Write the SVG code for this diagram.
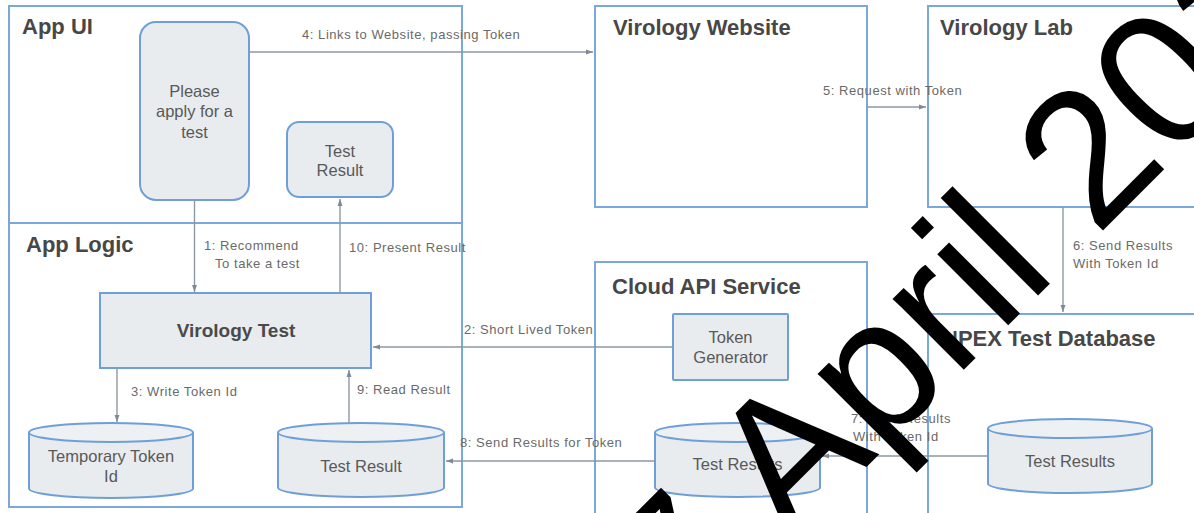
<svg xmlns="http://www.w3.org/2000/svg" width="1194" height="513" viewBox="0 0 1194 513">
<style>
.box{fill:#ffffff;stroke:#7aa8dc;stroke-width:2}
.node{fill:#e8ecef;stroke:#6f9fd8;stroke-width:2}
.top{fill:#eef1f3;stroke:#6f9fd8;stroke-width:2}
.title{font-family:"Liberation Sans",Arial,sans-serif;font-weight:bold;font-size:22px;fill:#474747}
.ntext{font-family:"Liberation Sans",Arial,sans-serif;font-size:16.5px;fill:#595959;text-anchor:middle}
.lbl{font-family:"Liberation Sans",Arial,sans-serif;font-size:13px;letter-spacing:0.55px;fill:#6a6a6a}
.conn{fill:none;stroke:#8d98a5;stroke-width:1.4}
.wm{font-family:"Liberation Sans",Arial,sans-serif;font-size:190px;fill:#000000}
</style>
<defs>
<marker id="ah" markerUnits="userSpaceOnUse" markerWidth="7" markerHeight="6" refX="7" refY="3" orient="auto">
<path d="M0,0.5 L7,3 L0,5.5 z" fill="#7f8a97"/>
</marker>
</defs>

<g id="app-ui">
<rect class="box" x="9" y="6" width="453" height="217"/>
<text class="title" x="22" y="34">App UI</text>
</g>
<g id="app-logic">
<rect class="box" x="9" y="223" width="453" height="284"/>
<text class="title" x="26" y="252">App Logic</text>
</g>
<g id="virology-website">
<rect class="box" x="595" y="6" width="272" height="201"/>
<text class="title" x="613" y="35">Virology Website</text>
</g>
<g id="virology-lab">
<rect class="box" x="928" y="6" width="300" height="201"/>
<text class="title" x="940" y="35">Virology Lab</text>
</g>
<g id="cloud-api-service">
<rect class="box" x="595" y="262" width="272" height="280"/>
<text class="title" x="612" y="294">Cloud API Service</text>
</g>
<g id="npex-test-database">
<rect class="box" x="928" y="314" width="300" height="230"/>
<text class="title" x="942" y="346">NPEX Test Database</text>
</g>

<g id="please-apply">
<rect class="node" x="140" y="22" width="109" height="178" rx="16"/>
<text class="ntext" x="194.5" y="97">Please</text>
<text class="ntext" x="194.5" y="117">apply for a</text>
<text class="ntext" x="194.5" y="138">test</text>
</g>
<g id="ui-test-result">
<rect class="node" x="287" y="122" width="106" height="75" rx="12"/>
<text class="ntext" x="340" y="157">Test</text>
<text class="ntext" x="340" y="176">Result</text>
</g>
<g id="virology-test">
<rect class="node" x="100" y="293" width="271" height="75"/>
<text class="ntext" x="236" y="337" style="font-weight:bold;font-size:19px;fill:#4a4a4a">Virology Test</text>
</g>
<g id="token-generator">
<rect class="node" x="673" y="314" width="115" height="66" rx="1"/>
<text class="ntext" x="730.5" y="343">Token</text>
<text class="ntext" x="730.5" y="363">Generator</text>
</g>
<g id="temporary-token-id">
<path class="node" d="M29,432.5 V488.5 A82,9.5 0 0 0 193,488.5 V432.5"/>
<ellipse class="top" cx="111" cy="432.5" rx="82" ry="9.5"/>
<text class="ntext" x="111" y="462">Temporary Token</text>
<text class="ntext" x="111" y="482">Id</text>
</g>
<g id="logic-test-result">
<path class="node" d="M278,432.5 V487.5 A83,9.5 0 0 0 444,487.5 V432.5"/>
<ellipse class="top" cx="361" cy="432.5" rx="83" ry="9.5"/>
<text class="ntext" x="361" y="472">Test Result</text>
</g>
<g id="cloud-test-results">
<path class="node" d="M655,432.5 V487.5 A82.5,9.5 0 0 0 820,487.5 V432.5"/>
<ellipse class="top" cx="737.5" cy="432.5" rx="82.5" ry="9.5"/>
<text class="ntext" x="737.5" y="470">Test Results</text>
</g>
<g id="npex-test-results">
<path class="node" d="M988,428.5 V483.5 A82,9.5 0 0 0 1152,483.5 V428.5"/>
<ellipse class="top" cx="1070" cy="428.5" rx="82" ry="9.5"/>
<text class="ntext" x="1070" y="467">Test Results</text>
</g>

<g id="connectors">
<line class="conn" x1="194.5" y1="200" x2="194.5" y2="292" marker-end="url(#ah)"/>
<text class="lbl" x="204" y="250">1: Recommend</text>
<text class="lbl" x="215" y="268">To take a test</text>

<line class="conn" x1="673" y1="347" x2="373" y2="347" marker-end="url(#ah)"/>
<text class="lbl" x="464" y="334">2: Short Lived Token</text>

<line class="conn" x1="117" y1="368" x2="117" y2="422" marker-end="url(#ah)"/>
<text class="lbl" x="131" y="396">3: Write Token Id</text>

<line class="conn" x1="249" y1="52" x2="593" y2="52" marker-end="url(#ah)"/>
<text class="lbl" x="302" y="39">4: Links to Website, passing Token</text>

<line class="conn" x1="867" y1="107" x2="926" y2="107" marker-end="url(#ah)"/>
<text class="lbl" x="823" y="95">5: Request with Token</text>

<line class="conn" x1="1063" y1="207" x2="1063" y2="312" marker-end="url(#ah)"/>
<text class="lbl" x="1073" y="250">6: Send Results</text>
<text class="lbl" x="1073" y="268">With Token Id</text>

<line class="conn" x1="988" y1="456" x2="822" y2="456" marker-end="url(#ah)"/>
<text class="lbl" x="851" y="423">7: Send Results</text>
<text class="lbl" x="853" y="441">With Token Id</text>

<line class="conn" x1="655" y1="461" x2="446" y2="461" marker-end="url(#ah)"/>
<text class="lbl" x="460" y="447">8: Send Results for Token</text>

<line class="conn" x1="349" y1="423" x2="349" y2="370" marker-end="url(#ah)"/>
<text class="lbl" x="357" y="394">9: Read Result</text>

<line class="conn" x1="340" y1="293" x2="340" y2="199" marker-end="url(#ah)"/>
<text class="lbl" x="349" y="252">10: Present Result</text>
</g>

<text class="wm" transform="translate(797.5,536) rotate(-45)" x="-158.5" y="0">7 April 2020</text>
</svg>
